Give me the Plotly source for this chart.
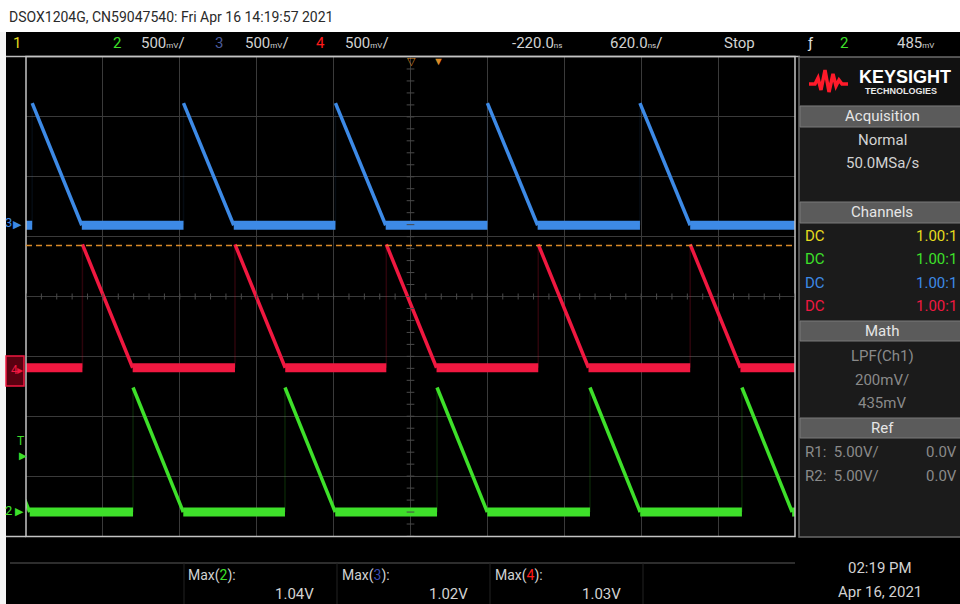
import plotly.graph_objects as go

# ---------------- data ----------------
TIME_PER_DIV_NS = 620.0
VOLT_PER_DIV = 0.5
SCREEN_DIVS_X = 10
SCREEN_DIVS_Y = 8

# channel 3 (blue)
ch3_ramp_start_ns = [-4275, -3050, -1830, -605, 620, 1850]
ch3_ramp_end_ns = [-3870, -2650, -1425, -200, 1025, 2255]
ch3_peak_v = 1.02
ch3_base_v = 0.0
ch3_offset_div = 1.19

# channel 4 (red)
ch4_ramp_start_ns = [-3870, -2645, -1415, -195, 1030, 2255]
ch4_ramp_end_ns = [-3465, -2240, -1010, 210, 1435, 2660]
ch4_peak_v = 1.03
ch4_base_v = 0.0
ch4_offset_div = -1.19

# channel 2 (green)
ch2_ramp_start_ns = [-3475, -2237, -1012, 214, 1447, 2672]
ch2_ramp_end_ns = [-3070, -1832, -607, 619, 1852, 3077]
ch2_peak_v = 1.04
ch2_base_v = 0.0
ch2_offset_div = -3.60

trigger_level_div = 0.85  # orange dashed line position (divisions from centre)
trigger_time_ns = 220

max_labels = ["2", "3", "4"]
max_values = ["1.04V", "1.02V", "1.03V"]

# ---------------- helpers ----------------
W, H = 960, 604
def PX(x):
    return x / W
def PY(y):
    return 1 - y / H

X_HALF = TIME_PER_DIV_NS * SCREEN_DIVS_X / 2
BLUE = "#3d8ae6"
RED = "#f01840"
GREEN = "#3ee02a"
YELLOW = "#e6dc1e"
ORANGE = "#d98a28"
TXT = "#d2d2d2"
FONT = "Liberation Sans Narrow, Roboto, Liberation Sans, sans-serif"


def build(starts, ends, peak, base):
    rx, ry, bx, by, jx, jy = [], [], [], [], [], []
    for i, (s, e) in enumerate(zip(starts, ends)):
        rx += [s, e, None]
        ry += [peak, base, None]
        jx += [s, s, None]
        jy += [base, peak, None]
        nxt = starts[i + 1] if i + 1 < len(starts) else X_HALF + 50
        bx += [e, nxt, None]
        by += [base, base, None]
    return rx, ry, bx, by, jx, jy


def yrange(offset_div):
    return [-(SCREEN_DIVS_Y / 2 + offset_div) * VOLT_PER_DIV,
            (SCREEN_DIVS_Y / 2 - offset_div) * VOLT_PER_DIV]


fig = go.Figure()

channels = [
    (ch3_ramp_start_ns, ch3_ramp_end_ns, ch3_peak_v, ch3_base_v, BLUE, "y2", 0.08),
    (ch4_ramp_start_ns, ch4_ramp_end_ns, ch4_peak_v, ch4_base_v, RED, "y3", 0.18),
    (ch2_ramp_start_ns, ch2_ramp_end_ns, ch2_peak_v, ch2_base_v, GREEN, "y4", 0.15),
]
for s, e, p, b, col, ya, jop in channels:
    rx, ry, bx, by, jx, jy = build(s, e, p, b)
    fig.add_trace(go.Scatter(x=jx, y=jy, yaxis=ya, mode="lines",
                             line=dict(color=col, width=1.5), opacity=jop,
                             hoverinfo="skip", showlegend=False))
    fig.add_trace(go.Scatter(x=bx, y=by, yaxis=ya, mode="lines",
                             line=dict(color=col, width=9),
                             hoverinfo="skip", showlegend=False))
    fig.add_trace(go.Scatter(x=rx, y=ry, yaxis=ya, mode="lines",
                             line=dict(color=col, width=3.5),
                             hoverinfo="skip", showlegend=False))

dom_x = [PX(26), PX(795)]
dom_y = [PY(536), PY(57)]
hidden = dict(showgrid=False, zeroline=False, showticklabels=False,
              showline=False, ticks="", domain=dom_y, overlaying="y",
              fixedrange=True)
fig.update_layout(
    width=W, height=H,
    margin=dict(l=0, r=0, t=0, b=0),
    paper_bgcolor="#000000", plot_bgcolor="#000000",
    xaxis=dict(domain=dom_x, range=[-X_HALF, X_HALF], dtick=TIME_PER_DIV_NS,
               tick0=0, showgrid=True, gridcolor="#3a3a3a", gridwidth=1,
               zeroline=False, showticklabels=False, ticks="", showline=False),
    yaxis=dict(domain=dom_y, range=[-SCREEN_DIVS_Y / 2, SCREEN_DIVS_Y / 2],
               dtick=1, tick0=0, showgrid=True, gridcolor="#3a3a3a",
               gridwidth=1, zeroline=False, showticklabels=False, ticks="",
               showline=False),
    yaxis2=dict(range=yrange(ch3_offset_div), **hidden),
    yaxis3=dict(range=yrange(ch4_offset_div), **hidden),
    yaxis4=dict(range=yrange(ch2_offset_div), **hidden),
    font=dict(family=FONT, color=TXT),
)

shapes = []
# white header strip and left white border
shapes.append(dict(type="rect", xref="paper", yref="paper", x0=0, x1=1,
                   y0=PY(32), y1=1, fillcolor="#ffffff", line_width=0, layer="below"))
shapes.append(dict(type="rect", xref="paper", yref="paper", x0=0, x1=PX(6),
                   y0=0, y1=PY(32), fillcolor="#f4f4f4", line_width=0, layer="below"))
# top bar bottom line
shapes.append(dict(type="line", xref="paper", yref="paper", x0=PX(6), x1=PX(800),
                   y0=PY(56.5), y1=PY(56.5), line=dict(color="#bdbdbd", width=1.5)))
# graticule border
shapes.append(dict(type="rect", xref="paper", yref="paper", x0=PX(26), x1=PX(795),
                   y0=PY(536.5), y1=PY(56.5), line=dict(color="#c4c4c4", width=1.5)))
shapes.append(dict(type="line", xref="paper", yref="paper", x0=PX(6), x1=PX(26),
                   y0=PY(536.5), y1=PY(536.5), line=dict(color="#c4c4c4", width=1.5)))
# minor ticks on centre lines
for k in range(-25, 26):
    xx = k * TIME_PER_DIV_NS / 5
    shapes.append(dict(type="line", xref="x", yref="y", x0=xx, x1=xx, y0=-0.05, y1=0.05,
                       line=dict(color="#4a4a4a", width=1)))
for k in range(-20, 21):
    yy = k / 5
    shapes.append(dict(type="line", xref="x", yref="y", x0=-TIME_PER_DIV_NS * 0.05,
                       x1=TIME_PER_DIV_NS * 0.05, y0=yy, y1=yy,
                       line=dict(color="#4a4a4a", width=1)))
# trigger level dashed line
shapes.append(dict(type="line", xref="x", yref="y", x0=-X_HALF, x1=X_HALF,
                   y0=trigger_level_div, y1=trigger_level_div,
                   line=dict(color=ORANGE, width=1.5, dash="6px,4px")))
# right panel
shapes.append(dict(type="rect", xref="paper", yref="paper", x0=PX(799), x1=PX(962),
                   y0=PY(537), y1=PY(57), fillcolor="#1b1b1b",
                   line=dict(color="#6a6a6a", width=1.5)))
shapes.append(dict(type="rect", xref="paper", yref="paper", x0=PX(800), x1=PX(962),
                   y0=PY(105), y1=PY(58), fillcolor="#111111", line_width=0))
for y0, y1 in [(106, 127), (202, 223), (321, 341), (418, 438)]:
    shapes.append(dict(type="rect", xref="paper", yref="paper", x0=PX(800), x1=PX(962),
                       y0=PY(y1), y1=PY(y0), fillcolor="#5b5b5b",
                       line=dict(color="#7a7a7a", width=1)))
# keysight logo wave
logo_pts = [(809, 84), (815, 84), (818, 78), (821, 90), (825, 70), (829, 92),
            (833, 74), (836, 86), (839, 80), (842, 84), (848, 84)]
path = "M " + " L ".join(f"{PX(x)},{PY(y)}" for x, y in logo_pts)
shapes.append(dict(type="path", xref="paper", yref="paper", path=path,
                   line=dict(color="#ff1a2a", width=3.5)))
# bottom measurement area
shapes.append(dict(type="line", xref="paper", yref="paper", x0=PX(10), x1=PX(795),
                   y0=PY(563), y1=PY(563), line=dict(color="#3c3c3c", width=1.5)))
for xs in [184, 337, 490, 643]:
    shapes.append(dict(type="line", xref="paper", yref="paper", x0=PX(xs), x1=PX(xs),
                       y0=PY(604), y1=PY(563), line=dict(color="#222222", width=1)))
# ch4 marker box
shapes.append(dict(type="rect", xref="paper", yref="paper", x0=PX(6), x1=PX(24),
                   y0=PY(386), y1=PY(356), fillcolor="#5a0010",
                   line=dict(color=RED, width=1.5)))
fig.update_layout(shapes=shapes)

ann = []
def T(x, y, text, size=15, color=TXT, xanchor="left", family=FONT, **kw):
    ann.append(dict(xref="paper", yref="paper", x=PX(x), y=PY(y), text=text,
                    showarrow=False, xanchor=xanchor, yanchor="middle",
                    font=dict(size=size, color=color, family=family), **kw))

T(7, 17, "DSOX1204G, CN59047540: Fri Apr 16 14:19:57 2021", size=14, color="#2a2a2a")
mv = "<span style='font-size:8px'>mV</span>"
ns = "<span style='font-size:8px'>ns</span>"
T(11, 43, "1", color=YELLOW)
T(111, 43, "2", color=GREEN)
T(139, 43, "500" + mv + "/")
T(213, 43, "3", color="#4a5a9a")
T(243, 43, "500" + mv + "/")
T(314, 43, "4", color="#ff1a1a")
T(343, 43, "500" + mv + "/")
T(510, 43, "-220.0" + ns)
T(608, 43, "620.0" + ns + "/")
T(722, 43, "Stop")
T(805, 43, "ƒ", color="#e0e0e0")
T(838, 43, "2", color=GREEN)
T(895, 43, "485" + mv)

# trigger markers
T(411, 61, "▽", size=11, color=ORANGE, xanchor="center")
T(438, 61, "▼", size=11, color=ORANGE, xanchor="center")

# left channel markers
T(3, 223, "3", size=13, color=BLUE)
T(11, 224, "▶", size=11, color=BLUE)
T(9, 370, "4", size=12, color=RED)
T(15, 370, "▸", size=12, color=RED)
T(15, 441, "T", size=12, color=GREEN)
T(17, 455, "▶", size=10, color=GREEN)
T(3, 510, "2", size=13, color=GREEN)
T(13, 511, "▶", size=11, color=GREEN)

# right panel
T(857, 77, "<b>KEYSIGHT</b>", size=18, color="#ffffff", family="Liberation Sans, Arial, sans-serif")
T(863, 91, "<b>TECHNOLOGIES</b>", size=9, color="#e8e8e8", family="Liberation Sans, Arial, sans-serif")
T(882, 116, "Acquisition", xanchor="center", color="#e6e6e6")
T(882, 140, "Normal", xanchor="center")
T(882, 163, "50.0MSa/s", xanchor="center")
T(882, 212, "Channels", xanchor="center", color="#e6e6e6")
for yy, col in [(236, YELLOW), (259, GREEN), (283, BLUE), (306, RED)]:
    T(803, yy, "DC", color=col)
    T(959, yy, "1.00:1", color=col, xanchor="right")
T(882, 331, "Math", xanchor="center", color="#e6e6e6")
T(882, 356, "LPF(Ch1)", xanchor="center", color="#8a8a8a")
T(882, 380, "200mV/", xanchor="center", color="#8a8a8a")
T(882, 403, "435mV", xanchor="center", color="#8a8a8a")
T(882, 428, "Ref", xanchor="center", color="#e6e6e6")
T(803, 452, "R1:  5.00V/", color="#8a8a8a")
T(959, 452, "0.0V", color="#8a8a8a", xanchor="right")
T(803, 476, "R2:  5.00V/", color="#8a8a8a")
T(959, 476, "0.0V", color="#8a8a8a", xanchor="right")
T(880, 568, "02:19 PM", xanchor="center")
T(880, 592, "Apr 16, 2021", xanchor="center")

# bottom measurements
label_cols = {"2": GREEN, "3": "#3a4ab0", "4": "#ff1a1a"}
for i, (lab, val) in enumerate(zip(max_labels, max_values)):
    x0 = 186 + i * 153.5
    T(x0, 575, "Max(" + f"<span style='color:{label_cols[lab]}'>{lab}</span>" + "):", size=14)
    T(x0 + 130, 594, val, size=15, xanchor="right")

fig.update_layout(annotations=ann)
fig.write_html("out.html", config={"displayModeBar": False},
               post_script="document.body.style.margin='0px';document.body.style.overflow='hidden';")
